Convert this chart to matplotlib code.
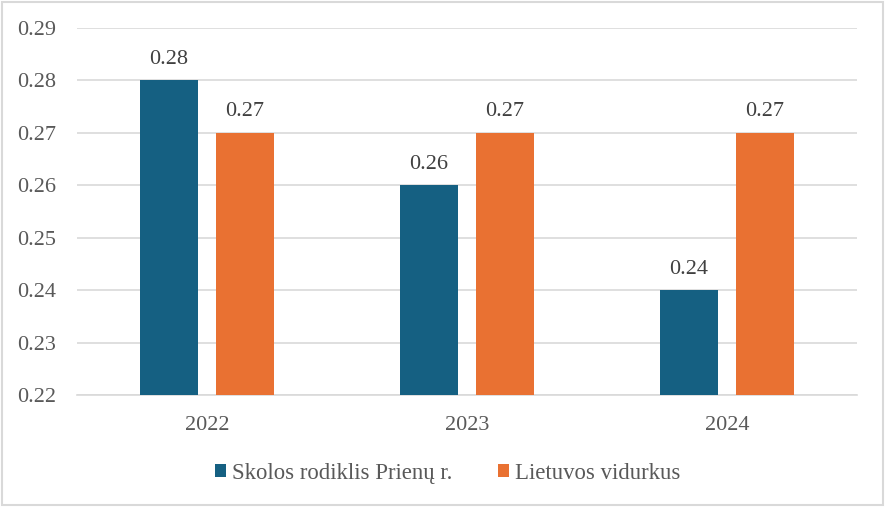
import matplotlib.pyplot as plt
import numpy as np
from matplotlib.patches import Rectangle

years = ["2022", "2023", "2024"]
prienai = [0.28, 0.26, 0.24]
lietuva = [0.27, 0.27, 0.27]
series_names = ["Skolos rodiklis Prienų r.", "Lietuvos vidurkus"]
yticks = [0.22, 0.23, 0.24, 0.25, 0.26, 0.27, 0.28, 0.29]

plt.rcParams['font.family'] = ['Liberation Serif', 'DejaVu Serif']

fig = plt.figure(figsize=(8.86, 5.07), dpi=100)
ax = fig.add_axes([0.0869, 0.2209, 0.8804, 0.7239])

x = np.arange(len(years))
w = 0.223
off = 0.146
blue = "#156082"
orange = "#E97132"
b1 = ax.bar(x - off, prienai, w, color=blue, label=series_names[0], zorder=3)
b2 = ax.bar(x + off, lietuva, w, color=orange, label=series_names[1], zorder=3)

for bars, vals in ((b1, prienai), (b2, lietuva)):
    for r, v in zip(bars, vals):
        ax.text(r.get_x() + r.get_width() / 2, v + 0.0022, f"{v:.2f}",
                ha="center", va="bottom", fontsize=16, color="#404040")

ax.set_xlim(-0.5, 2.5)
ax.set_ylim(0.22, 0.29)
ax.set_yticks(yticks)
ax.set_yticklabels([f"{t:.2f}" for t in yticks])
ax.set_xticks(x)
ax.set_xticklabels(years)
ax.tick_params(axis="both", length=0, labelsize=16, labelcolor="#595959")
ax.tick_params(axis="y", pad=15)
ax.tick_params(axis="x", pad=15)
ax.grid(axis="y", color="#d9d9d9", linewidth=1.2, zorder=0)
for s in ("top", "right", "left"):
    ax.spines[s].set_visible(False)
ax.spines["bottom"].set_color("#d9d9d9")
ax.spines["bottom"].set_linewidth(1.2)

fig.legend(handles=[b1, b2], loc="center", bbox_to_anchor=(0.505, 0.066), ncol=2,
           frameon=False, fontsize=16.4, handlelength=0.5, handleheight=0.5,
           handletextpad=0.25, columnspacing=2.0, labelcolor="#595959")

fig.patches.append(Rectangle((0.002, 0.003), 0.995, 0.994, transform=fig.transFigure,
                             fill=False, edgecolor="#d9d9d9", linewidth=1.5))

fig.savefig("out.png", dpi=100)
